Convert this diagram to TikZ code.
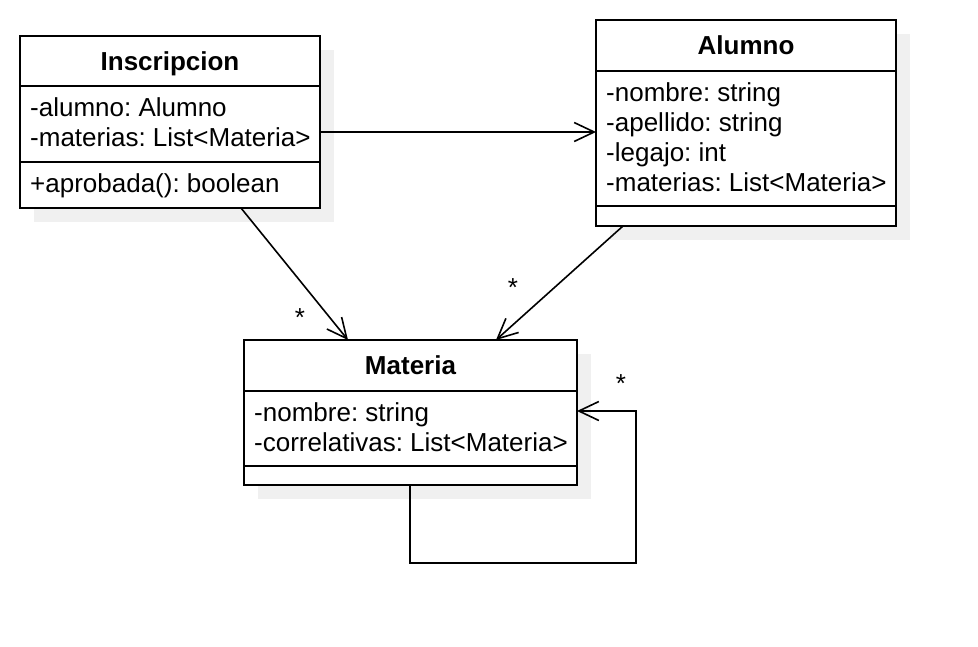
\documentclass[tikz,border=0pt]{standalone}
\usepackage{fontspec}
\setmainfont{Liberation Sans}
\usetikzlibrary{arrows.meta}
\definecolor{shadowgray}{RGB}{240,240,240}
\tikzset{
  classbox/.style={draw=black, line width=2pt, fill=white, inner sep=0pt},
  shadowbox/.style={fill=shadowgray, draw=none, inner sep=0pt},
  divider/.style={draw=black, line width=2pt},
  hdr/.style={font=\fontsize{26}{30}\selectfont\bfseries, inner sep=0pt, anchor=base},
  attr/.style={font=\fontsize{26}{30}\selectfont\frenchspacing, inner sep=0pt, anchor=base west},
  mult/.style={font=\fontsize{26}{30}\selectfont, inner sep=0pt},
  assoc/.style={draw=black, line width=1.6pt, -{Straight Barb[length=20pt,width=19pt,line width=1.6pt]}}
}
\begin{document}
\frenchspacing
\begin{tikzpicture}[x=1pt,y=-1pt]
\useasboundingbox (0,0) rectangle (978,646);
% shadows
\node[shadowbox, minimum width=300pt, minimum height=172pt] (inscS) at (184,136) {};
\node[shadowbox, minimum width=300pt, minimum height=206pt] (aluS) at (760,137) {};
\node[shadowbox, minimum width=333pt, minimum height=145pt] (matS) at (424.5,426.5) {};
% Inscripcion
\node[classbox, minimum width=300pt, minimum height=172pt] (insc) at (170,122) {};
\draw[divider] (20,86) -- (320,86);
\draw[divider] (20,162) -- (320,162);
\node[hdr] (inscT) at (170,70) {Inscripcion};
\node[attr] (inscA1) at (30,116) {-alumno: Alumno};
\node[attr] (inscA2) at (30,146) {-materias: List<Materia>};
\node[attr] (inscM1) at (30,192) {+aprobada(): boolean};
% Alumno
\node[classbox, minimum width=300pt, minimum height=206pt] (alu) at (746,123) {};
\draw[divider] (596,71) -- (896,71);
\draw[divider] (596,206) -- (896,206);
\node[hdr] (aluT) at (746,54) {Alumno};
\node[attr] (aluA1) at (606,101) {-nombre: string};
\node[attr] (aluA2) at (606,131) {-apellido: string};
\node[attr] (aluA3) at (606,161) {-legajo: int};
\node[attr] (aluA4) at (606,191) {-materias: List<Materia>};
% Materia
\node[classbox, minimum width=333pt, minimum height=145pt] (mat) at (410.5,412.5) {};
\draw[divider] (244,391) -- (577,391);
\draw[divider] (244,466) -- (577,466);
\node[hdr] (matT) at (410.5,374) {Materia};
\node[attr] (matA1) at (254,421) {-nombre: string};
\node[attr] (matA2) at (254,451) {-correlativas: List<Materia>};
% connector end points
\coordinate (inscR) at (320,132);
\coordinate (aluL) at (596,132);
\coordinate (inscB) at (241,208);
\coordinate (matTL) at (348,340);
\coordinate (aluB) at (623,226);
\coordinate (matTR) at (496,340);
\coordinate (matB) at (410,485);
\coordinate (loop1) at (410,563);
\coordinate (loop2) at (636,563);
\coordinate (loop3) at (636,411);
\coordinate (matR) at (577,411);
% connectors
\draw[assoc] (inscR) -- (aluL);
\draw[assoc] (inscB) -- (matTL);
\draw[assoc] (aluB) -- (matTR);
\draw[assoc] (matB) -- (loop1) -- (loop2) -- (loop3) -- (matR);
% multiplicities
\node[mult] (m1) at (300,318) {*};
\node[mult] (m2) at (513,288) {*};
\node[mult] (m3) at (621,384) {*};
\end{tikzpicture}
\end{document}
